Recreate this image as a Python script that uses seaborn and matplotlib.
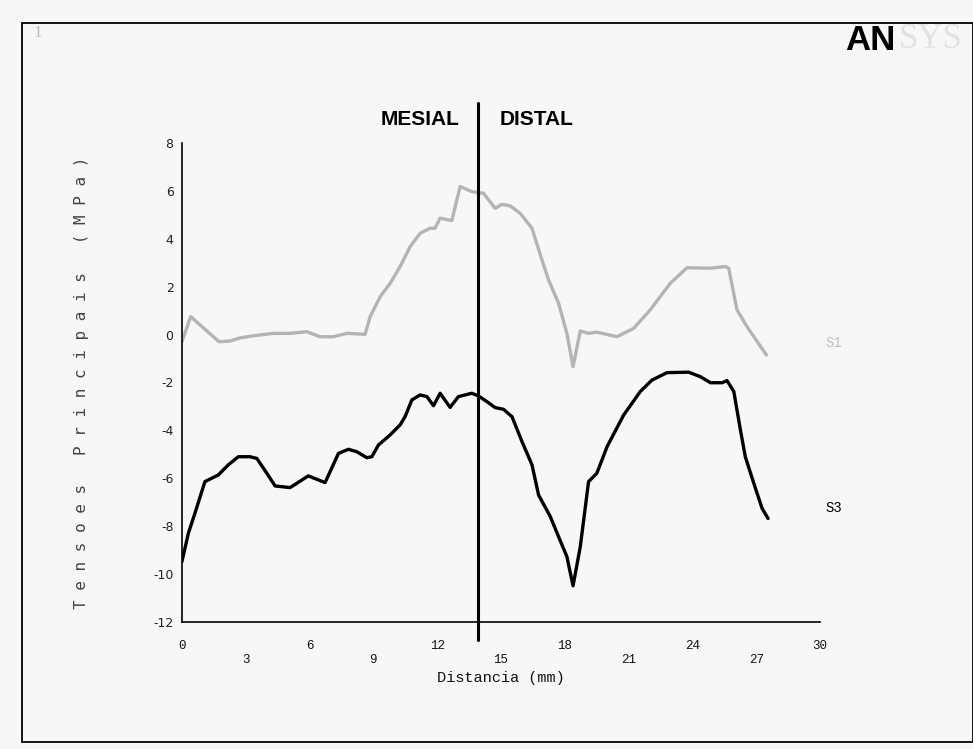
import matplotlib
matplotlib.use("Agg")
import matplotlib.pyplot as plt
import seaborn as sns
import pandas as pd
from matplotlib.patches import Rectangle

# ---- data ----
s1_x = [0, 0.41, 1.75, 2.26, 2.73, 3.36, 4.30, 5.08, 5.87, 6.49, 7.11, 7.75, 8.61, 8.85,
        9.32, 9.79, 10.26, 10.73, 11.2, 11.67, 11.9, 12.14, 12.69, 13.08, 13.63, 14.18,
        14.73, 15.04, 15.44, 15.91, 16.46, 16.93, 17.24, 17.71, 18.1, 18.39, 18.73, 19.12,
        19.51, 20.46, 21.24, 22.02, 22.96, 23.75, 24.85, 25.55, 25.71, 26.1, 26.57, 27.48]
s1_y = [-0.3, 0.75, -0.3, -0.27, -0.14, -0.05, 0.05, 0.05, 0.12, -0.09, -0.09, 0.05, 0.01,
        0.75, 1.58, 2.14, 2.84, 3.67, 4.23, 4.44, 4.44, 4.86, 4.76, 6.18, 5.97, 5.90, 5.27,
        5.44, 5.37, 5.06, 4.44, 3.11, 2.28, 1.31, 0.05, -1.34, 0.15, 0.05, 0.10, -0.09,
        0.26, 1.03, 2.14, 2.79, 2.77, 2.84, 2.77, 1.03, 0.33, -0.85]

s3_x = [0, 0.30, 0.61, 1.08, 1.71, 2.18, 2.65, 3.2, 3.52, 3.99, 4.38, 5.08, 5.40, 5.94,
        6.73, 7.36, 7.83, 8.22, 8.69, 8.93, 9.24, 9.79, 10.26, 10.49, 10.81, 11.2, 11.52,
        11.83, 12.14, 12.61, 13.0, 13.63, 13.94, 14.34, 14.73, 15.12, 15.52, 15.99, 16.46,
        16.77, 17.32, 17.71, 18.1, 18.39, 18.73, 19.12, 19.51, 19.99, 20.77, 21.55, 22.10,
        22.81, 23.83, 24.38, 24.85, 25.40, 25.63, 25.95, 26.26, 26.49, 26.89, 27.28, 27.56]
s3_y = [-9.48, -8.30, -7.46, -6.14, -5.86, -5.44, -5.10, -5.10, -5.17, -5.79, -6.32, -6.39,
        -6.21, -5.90, -6.18, -4.96, -4.79, -4.89, -5.14, -5.10, -4.61, -4.19, -3.77, -3.43,
        -2.73, -2.52, -2.59, -2.97, -2.45, -3.04, -2.59, -2.45, -2.56, -2.80, -3.05, -3.12,
        -3.43, -4.47, -5.44, -6.70, -7.60, -8.44, -9.27, -10.49, -8.86, -6.14, -5.79,
        -4.68, -3.36, -2.38, -1.90, -1.59, -1.57, -1.76, -2.01, -2.01, -1.92, -2.38,
        -3.98, -5.10, -6.21, -7.26, -7.68]

series_names = ["S1", "S3"]
series_colors = ["#b4b4b4", "#000000"]
series_label_colors = ["#c0c0c0", "#000000"]
series_label_y = [-0.35, -7.24]
x_ticks = [0, 3, 6, 9, 12, 15, 18, 21, 24, 27, 30]
y_ticks = [8, 6, 4, 2, 0, -2, -4, -6, -8, -10, -12]
divider_x = 13.9
region_labels = ["MESIAL", "DISTAL"]

# ---- figure ----
sns.set_style("white")
plt.rcParams["font.family"] = ["Liberation Mono", "DejaVu Sans"]

bg = "#f7f7f7"
fig = plt.figure(figsize=(9.73, 7.49), dpi=100, facecolor=bg)
ax = fig.add_axes([0.187, 0.1696, 0.6557, 0.6395])
ax.set_facecolor(bg)

df = pd.concat([
    pd.DataFrame({"x": s1_x, "y": s1_y, "serie": series_names[0]}),
    pd.DataFrame({"x": s3_x, "y": s3_y, "serie": series_names[1]}),
])
sns.lineplot(data=df, x="x", y="y", hue="serie", palette=dict(zip(series_names, series_colors)),
             estimator=None, sort=False, linewidth=2.4, legend=False, ax=ax)

ax.set_xlim(0, 30)
ax.set_ylim(-12, 8)
for s in ["top", "right"]:
    ax.spines[s].set_visible(False)
for s in ["left", "bottom"]:
    ax.spines[s].set_color("black")
    ax.spines[s].set_linewidth(1.2)

ax.set_xticks(x_ticks)
ax.set_xticklabels([str(t) if i % 2 == 0 else "\n" + str(t) for i, t in enumerate(x_ticks)],
                   fontsize=9, family="Liberation Mono", color="#111111")
ax.set_yticks(y_ticks)
ax.set_yticklabels([str(t) for t in y_ticks], fontsize=9, family="DejaVu Sans", color="#222222")
ax.tick_params(axis="x", direction="out", length=10, width=0.8, color="#555555", pad=3)
ax.tick_params(axis="y", direction="out", length=3, width=0.8, color="#555555", pad=3)

ax.set_xlabel("Distancia (mm)", fontsize=11, family="Liberation Mono", labelpad=4,
              color="#111111")
ax.set_ylabel(" ".join("Tensoes Principais (MPa)"), fontsize=11.5,
              family="DejaVu Sans Mono", color="#444444", labelpad=46)

# divider line extending beyond axes
ax.plot([divider_x, divider_x], [9.67, -12.75], color="black", linewidth=2.2, clip_on=False)
ax.text(divider_x - 0.83, 9.0, region_labels[0], ha="right", va="center", fontsize=15,
        fontweight="bold", family="Liberation Sans", color="black", clip_on=False)
ax.text(divider_x + 1.05, 9.0, region_labels[1], ha="left", va="center", fontsize=15,
        fontweight="bold", family="Liberation Sans", color="black", clip_on=False)

# series labels
for name, color, ly in zip(series_names, series_label_colors, series_label_y):
    ax.text(30.25, ly, name, color=color,
            fontsize=10, family="Liberation Mono", va="center", ha="left", clip_on=False)

# frame and annotations
fig.patches.append(Rectangle((22 / 973, 1 - 742 / 749), (973 - 22) / 973, (742 - 23) / 749,
                             transform=fig.transFigure, fill=False, edgecolor="black",
                             linewidth=1.3))
fig.text(38 / 973, 1 - 33 / 749, "1", color="#bbbbbb", fontsize=12,
         family="Liberation Serif", ha="center", va="center")
fig.text(845 / 973, 1 - 40 / 749, "AN", color="black", fontsize=25, fontweight="bold",
         family="Liberation Sans", ha="left", va="center")
fig.text(899 / 973, 1 - 40 / 749, "SYS", color="#e2e2e2", fontsize=25,
         family="Liberation Serif", ha="left", va="center")

fig.savefig("out.png", dpi=100, facecolor=bg)
